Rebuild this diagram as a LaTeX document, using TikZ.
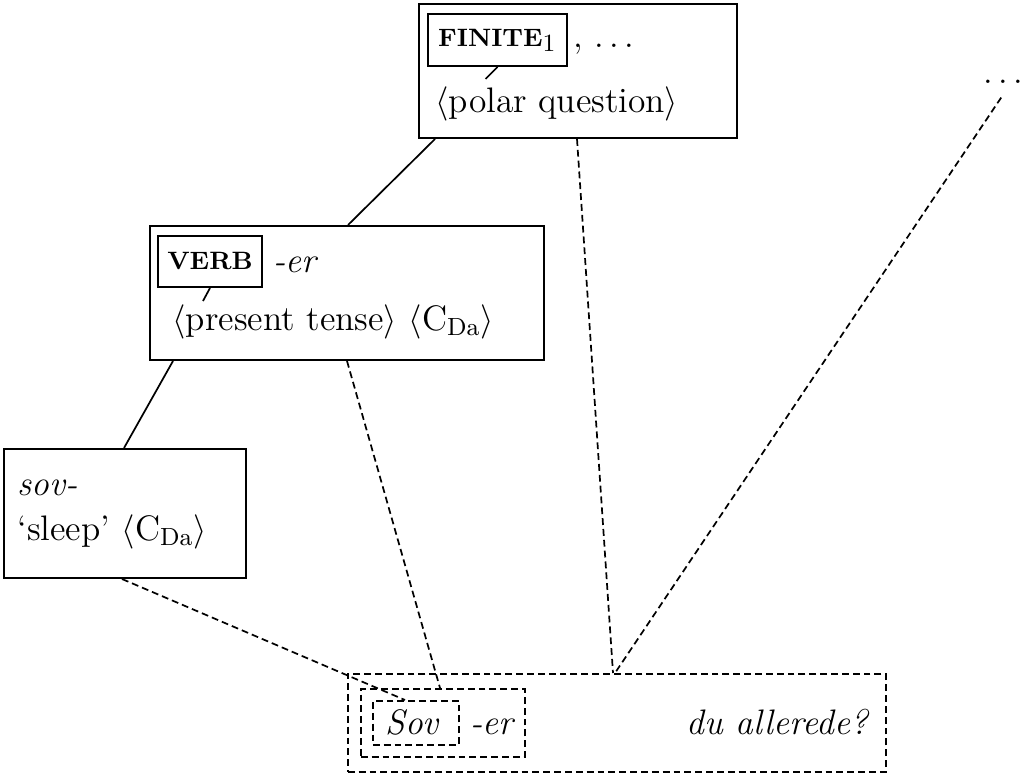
\documentclass[tikz,border=0pt]{standalone}
\usetikzlibrary{calc}
\newcommand\spacedots{.\hspace{1.8pt}.\hspace{1.8pt}.}
\begin{document}
\begin{tikzpicture}[x=0.35pt,y=-0.35pt,
  every node/.style={font=\fontsize{12.4}{15}\selectfont},
  frame/.style={draw, line width=0.7pt, inner sep=0pt, anchor=north west},
  dframe/.style={draw, line width=0.6pt, inner sep=0pt, anchor=north west, dash pattern=on 2.4pt off 1.4pt},
  txt/.style={inner sep=0pt, anchor=base west},
  tag/.style={draw, line width=0.7pt, inner sep=0pt},
  link/.style={line width=0.6pt},
  dlink/.style={line width=0.6pt, dash pattern=on 2.4pt off 1.4pt},
  sz/.style 2 args={minimum width=#1*0.35pt, minimum height=#2*0.35pt}
]
\useasboundingbox (0,0) rectangle (1020,775);

% construction for the polar question
\node[frame, sz={318}{134}] (top) at (418,3) {};
\node[tag, sz={139}{52}] (fin) at (497.5,40) {{\fontsize{8.8}{10}\selectfont\bfseries FINITE}\textsubscript{1}};
\node[txt] (finrest) at (573,48) {,\hspace{4pt}\spacedots};
\node[txt] (polar) at (435,112) {$\langle$polar question$\rangle$};

% present tense construction
\node[frame, sz={394}{134}] (mid) at (149,225) {};
\node[tag, sz={104}{51}] (verb) at (210,261.5) {{\fontsize{8.8}{10}\selectfont\bfseries VERB}};
\node[txt] (verbsuf) at (273,272) {\textit{-er}};
\node[txt] (pres) at (172,330) {$\langle$present tense$\rangle$ $\langle$C\textsubscript{Da}$\rangle$};

% lexical construction
\node[frame, sz={242}{129}] (sov) at (3,448) {};
\node[txt] (sovform) at (17,495) {\textit{sov-}};
\node[txt] (sovmean) at (17,540) {`sleep' $\langle$C\textsubscript{Da}$\rangle$};

% further constructions
\node[txt] (more) at (983,84) {\spacedots};

% the utterance
\node[dframe, sz={538}{98}] (clause) at (347,673) {};
\node[dframe, sz={164}{68}] (word) at (360,688) {};
\node[dframe, sz={86}{44}] (stem) at (372,700) {};
\node[txt] (stemtext) at (385,734) {\textit{Sov}};
\node[txt] (suftext) at (470,734) {\textit{-er}};
\node[txt] (resttext) at (686,734) {\textit{du allerede?}};

% inheritance links
\draw[link] ($(top.south west)+(17,0)$) -- ($(mid.north west)+(199,0)$);
\draw[link] ($(mid.south west)+(24,0)$) -- ($(sov.north west)+(121,0)$);
\draw[link] (fin.south) -- ++(-12,12);
\draw[link] (verb.south) -- ++(-7,13);

% instantiation links
\draw[dlink] ($(more.south)+(-2,13)$) -- ($(clause.north west)+(268,0)$);
\draw[dlink] ($(top.south west)+(159,0)$) -- ($(clause.north west)+(266,0)$);
\draw[dlink] ($(mid.south west)+(198,0)$) -- ($(word.north west)+(80,0)$);
\draw[dlink] ($(sov.south west)+(119,0)$) -- ($(stem.north west)+(33,0)$);
\end{tikzpicture}
\end{document}
